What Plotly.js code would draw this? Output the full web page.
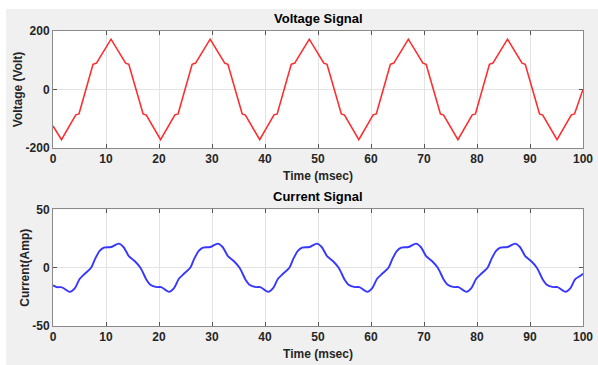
<!DOCTYPE html>
<html>
<head>
<meta charset="utf-8">
<script src="https://cdn.plot.ly/plotly-3.0.1.min.js"></script>
<style>
html,body{margin:0;padding:0;background:#ffffff;}
#chart{position:absolute;left:6px;top:9px;width:592px;height:356px;}
</style>
</head>
<body>
<div id="chart"></div>
<script>
// Voltage signal (time in msec, value in Volt)
const voltageTime = [0,
  1.6, 4.3, 4.9, 7.55, 8.2, 10.95, 13.7, 14.3, 17.0, 17.6,
  20.3, 23.0, 23.6, 26.25, 26.9, 29.65, 32.4, 33.0, 35.7, 36.3,
  39.0, 41.7, 42.3, 44.95, 45.6, 48.35, 51.1, 51.7, 54.4, 55.0,
  57.7, 60.4, 61.0, 63.65, 64.3, 67.05, 69.8, 70.4, 73.1, 73.7,
  76.4, 79.1, 79.7, 82.35, 83.0, 85.75, 88.5, 89.1, 91.8, 92.4,
  95.1, 97.8, 98.4, 100];
const voltageValue = [-125,
  -172, -87, -84, 86, 90, 172, 90, 86, -84, -88,
  -172, -87, -84, 86, 90, 172, 90, 86, -84, -88,
  -172, -87, -84, 86, 90, 172, 90, 86, -84, -88,
  -172, -87, -84, 86, 90, 172, 90, 86, -84, -88,
  -172, -87, -84, 86, 90, 172, 90, 86, -84, -88,
  -172, -87, -84, 0];

// Current signal (time in msec, value in Amp)
const currentTime = [0, 0.7, 1.7,
  3.2, 4.1, 5.05, 6.0, 7.2, 7.9, 8.8, 9.6, 11.0, 12.4, 13.3, 14.3, 15.4, 16.5, 17.6, 18.3, 19.6, 20.4,
  21.9, 22.8, 23.75, 24.7, 25.9, 26.6, 27.5, 28.3, 29.7, 31.1, 32.0, 33.0, 34.1, 35.2, 36.3, 37.0, 38.3, 39.1,
  40.6, 41.5, 42.45, 43.4, 44.6, 45.3, 46.2, 47.0, 48.4, 49.8, 50.7, 51.7, 52.8, 53.9, 55.0, 55.7, 57.0, 57.8,
  59.3, 60.2, 61.15, 62.1, 63.3, 64.0, 64.9, 65.7, 67.1, 68.5, 69.4, 70.4, 71.5, 72.6, 73.7, 74.4, 75.7, 76.5,
  78.0, 78.9, 79.85, 80.8, 82.0, 82.7, 83.6, 84.4, 85.8, 87.2, 88.1, 89.1, 90.2, 91.3, 92.4, 93.1, 94.4, 95.2,
  96.7, 97.6, 98.5, 99.3, 100];
const currentValue = [-15.2, -16.6, -16.8,
  -20.7, -17.8, -9.5, -5.2, 0, 7.2, 14.4, 17.2, 17.8, 20.7, 17.8, 10, 5.8, 0, -10, -14.3, -16.6, -16.6,
  -20.7, -17.8, -9.5, -5.2, 0, 7.2, 14.4, 17.2, 17.8, 20.7, 17.8, 10, 5.8, 0, -10, -14.3, -16.6, -16.6,
  -20.7, -17.8, -9.5, -5.2, 0, 7.2, 14.4, 17.2, 17.8, 20.7, 17.8, 10, 5.8, 0, -10, -14.3, -16.6, -16.6,
  -20.7, -17.8, -9.5, -5.2, 0, 7.2, 14.4, 17.2, 17.8, 20.7, 17.8, 10, 5.8, 0, -10, -14.3, -16.6, -16.6,
  -20.7, -17.8, -9.5, -5.2, 0, 7.2, 14.4, 17.2, 17.8, 20.7, 17.8, 10, 5.8, 0, -10, -14.3, -16.6, -16.6,
  -20.7, -17.8, -10, -7.5, -5.2];

const xTicks = [0, 10, 20, 30, 40, 50, 60, 70, 80, 90, 100];
const voltageTicks = [-200, 0, 200];
const currentTicks = [-50, 0, 50];

const FONT = 'Liberation Sans, Arial, sans-serif';
const tickFont = {family: FONT, size: 12, color: '#262626', weight: 'bold'};
const titleFont = {family: FONT, size: 12, color: '#262626', weight: 'bold'};

function xAxis(anchor) {
  return {
    anchor: anchor, range: [0, 100], tickvals: xTicks, ticktext: xTicks.map(String),
    showgrid: true, gridcolor: '#e3e3e3', gridwidth: 1, zeroline: false,
    showline: true, linecolor: '#8a8a8a', linewidth: 1, mirror: 'ticks',
    ticks: 'inside', ticklen: 4, tickcolor: '#555', tickfont: tickFont,
    title: {text: 'Time (msec)', font: titleFont, standoff: 6}
  };
}
function yAxis(anchor, range, ticks, title, domain) {
  return {
    anchor: anchor, domain: domain, range: range, tickvals: ticks, ticktext: ticks.map(String),
    showgrid: true, gridcolor: '#e3e3e3', gridwidth: 1, zeroline: false,
    showline: true, linecolor: '#8a8a8a', linewidth: 1, mirror: 'ticks',
    ticks: 'inside', ticklen: 4, tickcolor: '#555', tickfont: tickFont,
    title: {text: title, font: titleFont, standoff: 0}
  };
}

const traces = [
  {x: voltageTime, y: voltageValue, xaxis: 'x', yaxis: 'y', mode: 'lines',
   line: {color: 'rgb(255,45,45)', width: 1.6}, hoverinfo: 'skip'},
  {x: currentTime, y: currentValue, xaxis: 'x2', yaxis: 'y2', mode: 'lines',
   line: {color: 'rgb(55,55,255)', width: 1.9, shape: 'spline', smoothing: 0.8}, hoverinfo: 'skip'}
];

const layout = {
  width: 592, height: 356,
  paper_bgcolor: '#f0f0f0', plot_bgcolor: '#ffffff',
  margin: {l: 47, r: 15, t: 22, b: 39},
  showlegend: false,
  xaxis: xAxis('y'),
  yaxis: yAxis('x', [-200, 200], voltageTicks, 'Voltage (Volt)', [0.604, 1]),
  xaxis2: xAxis('y2'),
  yaxis2: yAxis('x2', [-50, 50], currentTicks, 'Current(Amp)', [0, 0.395]),
  annotations: [
    {text: 'Voltage Signal', xref: 'paper', yref: 'paper', x: 0.5, y: 1, yshift: 3,
     xanchor: 'center', yanchor: 'bottom', showarrow: false,
     font: {family: FONT, size: 13, color: '#000', weight: 'bold'}},
    {text: 'Current Signal', xref: 'paper', yref: 'paper', x: 0.5, y: 0.395, yshift: 3,
     xanchor: 'center', yanchor: 'bottom', showarrow: false,
     font: {family: FONT, size: 13, color: '#000', weight: 'bold'}}
  ]
};

Plotly.newPlot('chart', traces, layout, {staticPlot: true, displayModeBar: false});
</script>
</body>
</html>
